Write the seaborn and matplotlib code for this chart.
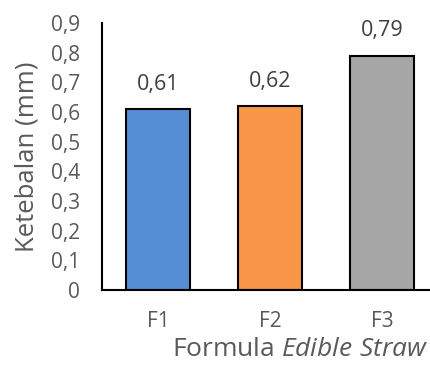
import matplotlib
matplotlib.use("Agg")
import matplotlib.pyplot as plt
import seaborn as sns
import pandas as pd

categories = ["F1", "F2", "F3"]
values = [0.61, 0.62, 0.79]
bar_colors = ["#558ED5", "#F79646", "#A6A6A6"]
y_ticks = [0, 0.1, 0.2, 0.3, 0.4, 0.5, 0.6, 0.7, 0.8, 0.9]

sns.set_theme(style="white")
plt.rcParams["font.family"] = ["Open Sans", "DejaVu Sans"]
plt.rcParams["mathtext.fontset"] = "custom"
plt.rcParams["mathtext.rm"] = "Open Sans"
plt.rcParams["mathtext.it"] = "Open Sans:italic"

df = pd.DataFrame({"Formula": categories, "Ketebalan": values})

W, H = 430, 365
fig = plt.figure(figsize=(W / 100, H / 100), dpi=100)
ax = fig.add_axes([102 / W, (H - 290) / H, (430 - 102) / W, (290 - 23) / H])

sns.barplot(data=df, x="Formula", y="Ketebalan", hue="Formula",
            palette=bar_colors, saturation=1, width=0.57, edgecolor="black",
            linewidth=1.5, legend=False, ax=ax)

ax.set_ylim(0, 0.9)
ax.set_xlim(-0.5, 2.43)
ax.set_yticks(y_ticks)
ax.set_yticklabels([f"{t:.1f}".replace(".", ",") if t else "0" for t in y_ticks])
ax.tick_params(axis="y", length=0, pad=16, labelsize=15, labelcolor="#595959")
ax.tick_params(axis="x", length=0, pad=15, labelsize=15, labelcolor="#595959")

for i, v in enumerate(values):
    ax.annotate(f"{v:.2f}".replace(".", ","), (i, v), xytext=(0, 18),
                textcoords="offset points", ha="center", va="center",
                fontsize=15.5, color="#404040")

ax.set_ylabel("Ketebalan (mm)", fontsize=18.5, color="#595959", ha="center", va="center")
ax.yaxis.set_label_coords(-(102 - 27) / 328, (290 - 157) / 267)
ax.set_xlabel("Formula $\\it{Edible\\ Straw}$", fontsize=19, color="#595959", ha="center", va="center")
ax.xaxis.set_label_coords((300 - 102) / 328, -(350 - 290) / 267)

for s in ["top", "right"]:
    ax.spines[s].set_visible(False)
for s in ["left", "bottom"]:
    ax.spines[s].set_color("black")
    ax.spines[s].set_linewidth(1.5)

fig.savefig("out.png", dpi=100)
